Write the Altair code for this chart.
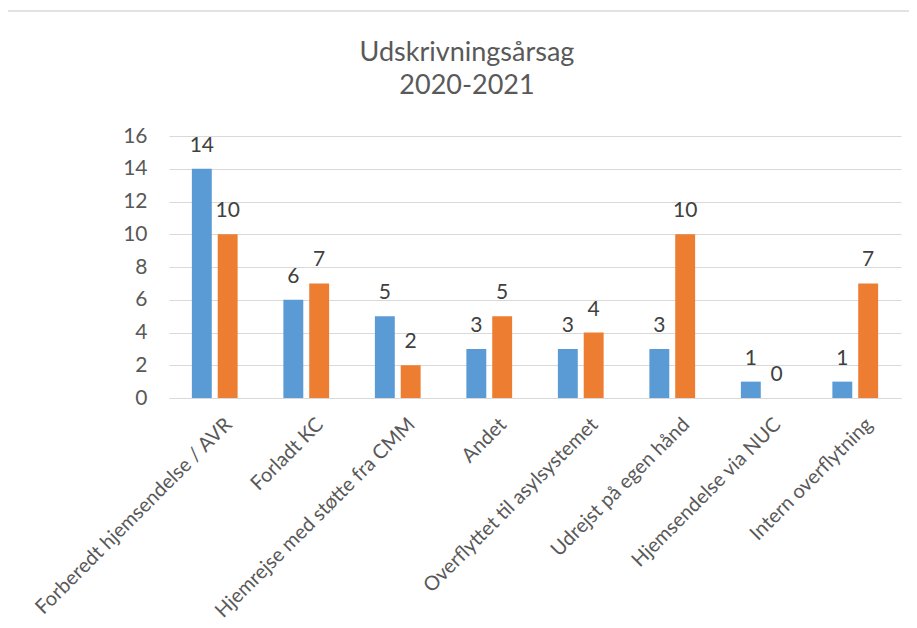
import altair as alt
import pandas as pd

categories = [
    "Forberedt hjemsendelse / AVR",
    "Forladt KC",
    "Hjemrejse med støtte fra CMM",
    "Andet",
    "Overflyttet til asylsystemet",
    "Udrejst på egen hånd",
    "Hjemsendelse via NUC",
    "Intern overflytning",
]
series_names = ["Serie 1", "Serie 2"]
series1 = [14, 6, 5, 3, 3, 3, 1, 1]
series2 = [10, 7, 2, 5, 4, 10, 0, 7]
colors = ["#5B9BD5", "#ED7D31"]
y_ticks = [0, 2, 4, 6, 8, 10, 12, 14, 16]

rows = []
for c, a, b in zip(categories, series1, series2):
    rows.append({"kategori": c, "serie": series_names[0], "antal": a})
    rows.append({"kategori": c, "serie": series_names[1], "antal": b})
df = pd.DataFrame(rows)

FONT = "Lato"

x_enc = alt.X(
    "kategori:N",
    sort=categories,
    scale=alt.Scale(paddingInner=0.5, paddingOuter=0.25),
    axis=alt.Axis(
        title=None,
        labelAngle=-45,
        labelFontSize=20,
        labelFont=FONT,
        labelColor="#595959",
        labelLimit=500,
        labelPadding=16,
        labelOffset=7,
        ticks=False,
        domainColor="#D9D9D9",
        domainWidth=1,
    ),
)
xoff = alt.XOffset("serie:N", sort=series_names, scale=alt.Scale(paddingInner=0.23, paddingOuter=0))
y_enc = alt.Y(
    "antal:Q",
    scale=alt.Scale(domain=[0, 16], nice=False),
    axis=alt.Axis(
        title=None,
        values=y_ticks,
        labelFontSize=21,
        labelFont=FONT,
        labelColor="#595959",
        labelPadding=22,
        domain=False,
        ticks=False,
        grid=True,
        gridColor="#D9D9D9",
        gridWidth=1,
    ),
)
color_enc = alt.Color(
    "serie:N",
    sort=series_names,
    scale=alt.Scale(domain=series_names, range=colors),
    legend=None,
)

base = alt.Chart(df)
bars = base.mark_bar().encode(x=x_enc, xOffset=xoff, y=y_enc, color=color_enc)
labels = base.mark_text(
    baseline="alphabetic", dy=-17, fontSize=21, font=FONT, color="#404040"
).encode(x=x_enc, xOffset=xoff, y=y_enc, text="antal:Q")

frame_data = alt.Data(values=[{"f": 1}])
left_line = alt.Chart(frame_data).mark_rule(color="#D9D9D9", strokeWidth=1.5).encode(
    x=alt.value(-162), y=alt.value(-125), y2=alt.value(495)
)
top_line = alt.Chart(frame_data).mark_rule(color="#D9D9D9", strokeWidth=1.5).encode(
    x=alt.value(-162), x2=alt.value(745), y=alt.value(-125)
)

chart = (
    alt.layer(left_line, top_line, bars, labels)
    .properties(
        width=732,
        height=262,
        autosize=alt.AutoSizeParams(type="none"),
        padding={"left": 161, "top": 128, "right": 8, "bottom": 225},
        title=alt.TitleParams(
            text=["Udskrivningsårsag", "2020-2021"],
            fontSize=27,
            font=FONT,
            fontWeight="normal",
            color="#595959",
            lineHeight=33,
            anchor="middle",
            dx=-68,
            dy=90,
            offset=0,
        ),
    )
    .configure_view(stroke=None)
)

chart.save("out.html", embed_options={"renderer": "svg", "actions": False})
